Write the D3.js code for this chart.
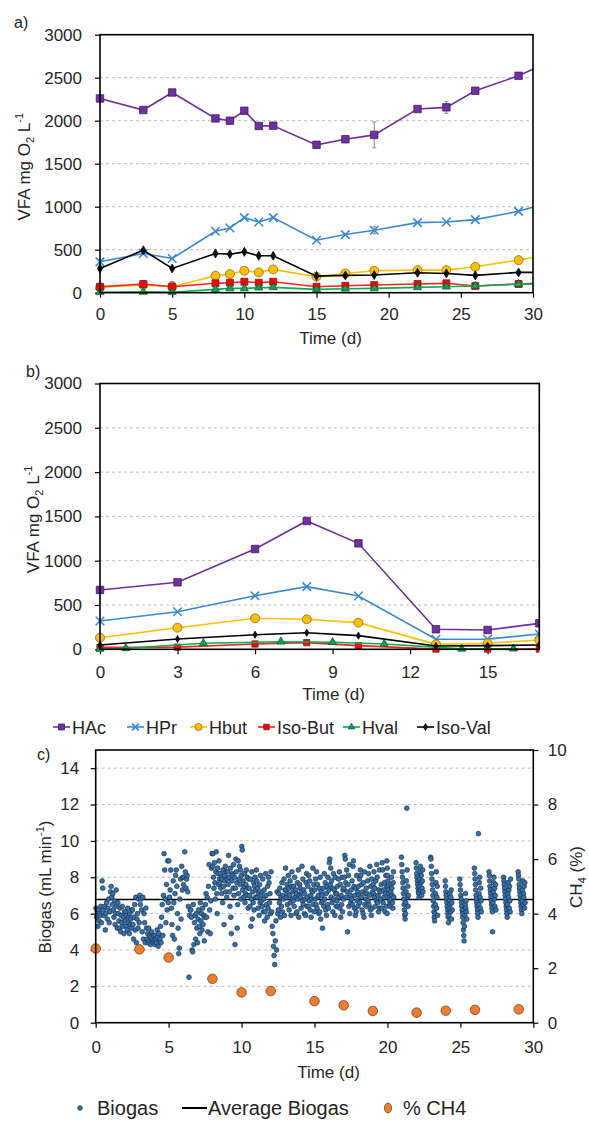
<!DOCTYPE html>
<html>
<head>
<meta charset="utf-8">
<script src="https://cdn.jsdelivr.net/npm/d3@7"></script>
<style>
  body { margin: 0; background: #fff; }
  svg text { font-family: "Liberation Sans", Arial, Helvetica, sans-serif; fill: #262626; }
</style>
</head>
<body>
<svg id="chart" width="589" height="1124"></svg>
<script>
// ---------- Panel a: VFA concentrations, 30-day run ----------
const daysA    = [0, 3, 5, 8, 9, 10, 11, 12, 15, 17, 19, 22, 24, 26, 29, 31];
const hacA     = [2259, 2124, 2328, 2027, 2000, 2116, 1939, 1942, 1719, 1784, 1835, 2136, 2155, 2348, 2522, 2680];
const hprA     = [359, 456, 398, 715, 753, 873, 822, 873, 610, 676, 726, 815, 822, 850, 946, 1046];
const hbutA    = [60, 90, 70, 197, 217, 255, 236, 271, 185, 224, 255, 263, 263, 301, 379, 441];
const isoButA  = [70, 101, 70, 109, 116, 128, 116, 128, 70, 81, 89, 101, 109, 78, 101, 100];
const hvalA    = [5, 10, 5, 39, 50, 50, 58, 62, 39, 46, 50, 62, 70, 78, 100, 116];
const isoValA  = [282, 494, 282, 456, 448, 475, 429, 429, 193, 201, 205, 232, 224, 201, 236, 236];
const hacErrA  = [0, 0, 0, 0, 0, 0, 0, 0, 40, 0, 150, 0, 70, 0, 0, 0];
const hprErrA  = [0, 0, 0, 0, 0, 0, 0, 0, 0, 0, 40, 0, 0, 0, 0, 0];
const hbutErrA = [0, 0, 60, 0, 0, 0, 0, 0, 0, 0, 0, 0, 0, 0, 0, 0];

// ---------- Panel b: VFA concentrations, 17-day run ----------
const daysB    = [0, 3, 6, 8, 10, 13, 15, 17];
const hacB     = [670, 756, 1132, 1448, 1196, 226, 218, 293];
const hprB     = [319, 424, 605, 707, 602, 113, 115, 173];
const hbutB    = [131, 244, 350, 339, 301, 56, 68, 105];
const isoButB  = [22, 25, 60, 75, 41, 2, 2, 2];
const isoValB  = [49, 116, 165, 187, 154, 37, 41, 49];
const hvalDaysB = [0, 1, 4, 7, 9, 11, 14, 16];
const hvalB    = [3, 11, 68, 86, 79, 60, 5, 7];

const vfaTicks = [0, 500, 1000, 1500, 2000, 2500, 3000];
const acidNames = ["HAc", "HPr", "Hbut", "Iso-But", "Hval", "Iso-Val"];

// ---------- Panel c: biogas flow and methane content ----------
// logging windows [start day, end day] and the flow readings (mL/min) taken in each
const biogasWindows = [
  [0, 0.5], [0.5, 1], [1, 1.5], [1.5, 2], [2, 2.5], [2.5, 3], [3, 3.5], [3.5, 4], [4, 4.5], [4.5, 5],
  [5, 5.5], [5.5, 6], [6, 6.5], [6.5, 7], [7, 7.5], [7.5, 8], [8, 8.5], [8.5, 9], [9, 9.5], [9.5, 10],
  [10, 10.5], [10.5, 11], [11, 11.5], [11.5, 12], [12, 12.5], [12.5, 13], [13, 13.5], [13.5, 14], [14, 14.5], [14.5, 15],
  [15, 15.5], [15.5, 16], [16, 16.5], [16.5, 17], [17, 17.5], [17.5, 18], [18, 18.5], [18.5, 19], [19, 19.5], [19.5, 20],
  [19.95, 20.45], [20.95, 21.45], [21.95, 22.45], [22.95, 23.45], [23.95, 24.45],
  [24.95, 25.45], [25.95, 26.45], [26.95, 27.45], [27.95, 28.45], [28.95, 29.45]
];
const biogasReadings = [
  [6.3, 5.8, 6.1, 5.3, 6.2, 5.6, 6.0, 5.9, 6.4, 5.5, 7.8, 7.4],
  [6.2, 5.9, 6.4, 5.1, 6.0, 6.6, 5.7, 6.3, 6.8, 5.5, 6.1],
  [7.2, 7.5, 6.9, 6.5, 7.1, 6.2, 5.8, 6.7, 5.4, 6.0, 7.3, 6.4, 5.2],
  [6.6, 6.0, 5.6, 5.2, 6.3, 5.0, 5.9, 5.5, 6.4, 5.3, 5.8, 4.9, 6.1],
  [5.6, 6.1, 5.3, 5.9, 5.1, 6.3, 5.5, 5.8, 4.9, 6.0, 5.4, 5.7, 5.2, 6.2],
  [6.2, 5.4, 4.6, 5.8, 6.5, 5.1, 6.9, 4.4, 5.7, 6.0, 5.2, 6.8, 5.5],
  [7.0, 6.5, 6.8, 6.2, 5.0, 6.9, 4.6, 6.0, 5.5, 4.4, 6.3, 5.2],
  [4.6, 4.9, 4.4, 5.2, 4.5, 4.8, 4.3, 4.7, 5.0, 4.5, 4.6, 4.4, 4.8],
  [4.5, 4.3, 4.8, 4.6, 4.4, 5.1, 4.7, 4.2, 4.9, 4.5, 4.6, 5.3, 4.4],
  [5.8, 6.5, 4.8, 7.0, 9.3, 8.4, 6.8, 5.5, 7.6, 6.2, 8.9, 6.6],
  [8.9, 6.9, 7.3, 8.4, 6.3, 5.4, 4.8, 7.8, 6.6, 4.6, 7.1, 8.1],
  [8.4, 7.5, 6.0, 5.2, 3.8, 4.1, 6.8, 7.9, 5.7, 8.6, 7.3, 8.0],
  [7.6, 8.0, 9.4, 8.3, 7.4, 7.9, 8.1, 7.2, 6.4, 2.5, 5.9, 6.2],
  [6.2, 5.8, 4.0, 3.9, 6.5, 4.3, 5.5, 5.9, 4.6, 6.0, 5.2, 4.4],
  [5.7, 6.2, 5.3, 4.9, 6.6, 5.6, 6.0, 5.1, 6.3, 5.4, 5.9, 4.5, 5.8],
  [6.5, 7.1, 5.8, 6.9, 5.0, 7.5, 8.7, 6.2, 4.9, 6.7, 8.5, 9.3],
  [8.6, 9.3, 8.0, 7.4, 8.8, 7.7, 6.8, 8.3, 9.4, 7.1, 6.0, 8.5, 8.2, 7.6, 8.9, 7.9],
  [7.7, 8.2, 7.4, 8.0, 7.1, 7.9, 6.6, 8.4, 7.5, 5.4, 8.1, 7.8, 8.6, 7.2, 8.3, 6.9],
  [7.9, 8.3, 7.6, 9.2, 8.0, 7.2, 6.4, 8.5, 5.8, 4.9, 7.8, 8.2, 8.1, 7.4, 8.7, 7.0],
  [8.0, 4.3, 7.4, 9.0, 8.3, 7.7, 5.2, 6.5, 8.9, 7.1, 7.9, 8.6, 7.6, 8.4, 6.8, 8.1],
  [9.7, 9.5, 7.3, 7.8, 6.9, 7.5, 8.2, 6.6, 7.1, 7.6, 8.4, 7.0, 8.0, 7.4, 6.3, 7.9],
  [7.4, 7.0, 6.4, 7.9, 5.3, 6.8, 8.3, 5.7, 7.2, 6.6, 7.7, 6.2, 7.5, 8.0, 6.9, 7.3],
  [8.4, 7.8, 6.9, 7.4, 6.3, 7.1, 5.9, 7.6, 6.6, 8.1, 7.0, 6.7, 7.2, 6.4, 7.9, 6.1],
  [6.8, 7.3, 5.6, 6.1, 8.2, 7.0, 6.5, 5.8, 7.5, 6.3, 8.0, 7.7, 6.6, 7.1, 6.0],
  [8.3, 6.1, 5.3, 4.9, 4.2, 3.7, 3.2, 4.5, 5.6, 4.0, 7.2, 6.0],
  [6.2, 7.1, 6.6, 7.4, 5.8, 6.9, 6.4, 7.7, 6.1, 7.0, 6.8, 7.9, 5.9, 7.3],
  [8.5, 7.3, 6.9, 7.6, 6.5, 7.1, 8.1, 7.4, 6.2, 7.0, 7.8, 6.6, 5.9, 7.5, 8.3, 6.8],
  [7.2, 6.7, 7.5, 6.4, 8.0, 6.9, 7.3, 6.0, 7.1, 6.1, 7.7, 6.8, 8.4, 5.8, 7.0, 7.6],
  [7.4, 6.9, 6.3, 7.2, 8.6, 6.7, 7.9, 6.5, 7.3, 6.0, 7.1, 6.8, 5.9, 7.7, 8.2, 6.4],
  [6.9, 7.5, 6.4, 8.1, 6.7, 7.8, 6.2, 7.0, 5.8, 7.3, 6.8, 7.2, 8.5, 6.5, 7.6, 6.1],
  [7.3, 6.8, 7.9, 6.5, 8.3, 6.3, 7.6, 6.9, 7.0, 6.0, 7.4, 6.1, 8.0, 5.7, 7.2, 6.6],
  [7.0, 5.2, 6.7, 7.4, 6.4, 8.2, 6.8, 7.7, 6.2, 7.1, 5.9, 7.5, 6.5, 8.0, 6.3, 7.3],
  [8.8, 9.0, 7.6, 8.5, 6.9, 7.8, 6.6, 7.4, 6.1, 8.2, 6.8, 7.3, 5.9, 8.0, 7.1, 6.4],
  [7.1, 6.7, 7.5, 6.4, 7.9, 6.9, 8.3, 6.3, 7.6, 5.8, 7.0, 6.5, 8.0, 6.1, 7.3, 6.8],
  [7.4, 8.0, 9.2, 9.0, 7.7, 6.9, 8.4, 7.2, 5.0, 7.6, 8.1, 6.4, 8.7, 6.0, 7.0, 6.6],
  [7.3, 6.8, 7.8, 6.5, 8.6, 8.9, 7.5, 6.3, 7.0, 5.9, 7.4, 6.1, 8.1, 6.7, 7.2, 6.4],
  [7.5, 7.0, 7.9, 6.6, 8.4, 8.1, 6.9, 7.6, 6.2, 7.2, 6.0, 7.7, 5.8, 8.3, 6.5, 7.1],
  [6.8, 7.4, 6.4, 7.1, 7.8, 6.7, 8.2, 6.5, 7.0, 8.6, 6.2, 7.5, 5.9, 7.9, 6.3, 7.2],
  [7.6, 7.1, 8.3, 6.9, 7.4, 6.4, 7.8, 6.7, 8.7, 8.0, 6.6, 7.0, 6.1, 7.3, 8.4, 6.3],
  [7.2, 6.8, 7.6, 6.3, 8.8, 8.4, 6.6, 7.3, 6.9, 7.7, 6.1, 7.1, 8.1, 6.4, 7.5, 6.0],
  [8.9, 8.5, 8.1, 7.8, 7.5, 7.3, 7.1, 6.9, 6.7, 6.5, 6.4, 6.8, 7.2, 7.6, 8.0, 7.4, 7.0, 6.6, 6.3, 7.7, 8.3, 6.9],
  [9.1, 8.7, 8.3, 8.0, 7.7, 7.4, 7.1, 6.8, 6.5, 6.2, 5.9, 5.7, 6.0, 6.6, 7.2, 7.8, 11.8, 8.4, 6.9, 7.5, 6.4, 7.0],
  [8.8, 8.5, 8.2, 8.0, 7.8, 7.6, 7.4, 7.2, 7.1, 6.9, 7.5, 7.9, 8.3, 8.6, 7.3, 7.7, 8.1, 7.0, 7.4, 7.8, 8.4, 7.2],
  [9.1, 9.0, 8.6, 8.2, 7.9, 7.6, 7.3, 7.0, 6.7, 6.4, 6.1, 5.8, 5.6, 6.0, 6.5, 7.1, 7.7, 8.3, 6.3, 6.9, 7.5, 5.9],
  [7.8, 7.5, 7.2, 7.0, 6.8, 6.6, 6.4, 6.2, 6.0, 5.8, 5.5, 5.9, 6.3, 6.7, 7.1, 6.5, 6.1, 6.9, 7.3, 5.7, 6.6, 6.2],
  [7.9, 7.6, 7.3, 7.0, 6.8, 6.6, 6.4, 6.2, 6.0, 5.8, 5.5, 5.1, 4.8, 4.5, 5.3, 5.9, 6.5, 7.1, 6.3, 6.7, 6.1, 5.7],
  [8.5, 8.2, 7.9, 7.6, 7.3, 7.0, 6.8, 6.6, 6.4, 6.2, 6.0, 5.8, 10.4, 6.5, 7.1, 7.7, 8.0, 6.9, 6.3, 7.4, 6.7, 6.1],
  [8.3, 8.1, 7.8, 7.5, 7.3, 7.1, 6.9, 6.7, 6.5, 6.3, 6.1, 5.0, 6.6, 7.2, 7.7, 8.0, 6.8, 7.4, 6.4, 7.0, 7.6, 6.2],
  [8.0, 7.8, 7.6, 7.4, 7.2, 7.0, 6.8, 6.6, 6.4, 6.2, 6.0, 5.8, 6.5, 7.1, 7.7, 6.9, 7.3, 6.3, 7.5, 6.7, 6.1, 7.9],
  [8.3, 8.1, 7.9, 7.6, 7.4, 7.2, 7.0, 6.8, 6.6, 6.4, 6.2, 6.0, 6.7, 7.3, 7.8, 6.5, 7.1, 6.9, 7.5, 6.3, 7.7, 6.6]
];
const avgBiogas = 6.78;
const avgBiogasSpan = [0, 30];
const ch4Days = [0, 3, 5, 8, 10, 12, 15, 17, 19, 22, 24, 26, 29];
const ch4Pct  = [2.72, 2.69, 2.39, 1.61, 1.11, 1.16, 0.79, 0.64, 0.43, 0.37, 0.44, 0.47, 0.49];
const biogasTicks = [0, 2, 4, 6, 8, 10, 12, 14];
const ch4Ticks = [0, 2, 4, 6, 8, 10];

// ---------- drawing ----------
const svg = d3.select("#chart");
const TICK_FS = 17;

const styles = {
  "HAc":     { line: "#7030A0", fill: "#7030A0", stroke: "#3a1a55", shape: "square",   size: 7.5 },
  "HPr":     { line: "#3a89d4", fill: "none",    stroke: "#3a89d4", shape: "cross",    size: 8.5 },
  "Hbut":    { line: "#FFC000", fill: "#FFC000", stroke: "#7a6020", shape: "circle",   size: 9 },
  "Iso-But": { line: "#FF2020", fill: "#FF0000", stroke: "#6a1a1a", shape: "square",   size: 7 },
  "Hval":    { line: "#00B050", fill: "#00A650", stroke: "#1c4a2c", shape: "triangle", size: 8 },
  "Iso-Val": { line: "#000000", fill: "#0b0b22", stroke: "#000000", shape: "diamond",  size: 7.5 }
};

function shapePath(shape, s) {
  switch (shape) {
    case "square":   return d3.symbol(d3.symbolSquare, s * s)();
    case "circle":   return d3.symbol(d3.symbolCircle, Math.PI * s * s / 4)();
    case "triangle": return d3.symbol(d3.symbolTriangle, s * s * 0.45)();
    case "diamond":  return d3.symbol(d3.symbolDiamond, s * s * 0.42)();
    case "cross":    return `M${-s / 2},${-s / 2}L${s / 2},${s / 2}M${-s / 2},${s / 2}L${s / 2},${-s / 2}`;
  }
}

function drawMarker(g, st, x, y, scale) {
  const s = st.size * (scale || 1);
  g.append("path")
    .attr("d", shapePath(st.shape, s))
    .attr("transform", `translate(${x},${y})`)
    .attr("fill", st.fill)
    .attr("stroke", st.stroke)
    .attr("stroke-width", st.shape === "cross" ? 1.6 : 0.7);
}

function styleAxis(g) {
  g.select(".domain").remove();
  g.selectAll(".tick line").attr("stroke", "#000").attr("stroke-width", 1.2);
  g.selectAll(".tick text").attr("font-size", TICK_FS).attr("fill", "#262626")
    .style("font-family", '"Liberation Sans", Arial, sans-serif');
}

function frame(g, L, R, T, B) {
  g.append("rect").attr("x", L).attr("y", T).attr("width", R - L).attr("height", B - T)
    .attr("fill", "none").attr("stroke", "#000").attr("stroke-width", 1.6);
}

function vfaTitle(x, y) {
  const t = svg.append("text").attr("transform", `translate(${x},${y}) rotate(-90)`)
    .attr("text-anchor", "middle").attr("font-size", 17);
  t.append("tspan").text("VFA mg O");
  t.append("tspan").text("2").attr("font-size", 11).attr("dy", 4);
  t.append("tspan").text(" L").attr("dy", -4);
  t.append("tspan").text("-1").attr("font-size", 11).attr("dy", -7);
}

function drawVfaPanel(cfg) {
  const x = d3.scaleLinear().domain([0, cfg.xMax]).range([cfg.L, cfg.R]);
  const y = d3.scaleLinear().domain([0, 3000]).range([cfg.B, cfg.T]);
  const g = svg.append("g");

  g.append("g").selectAll("line")
    .data(vfaTicks.filter(v => v > 0 && v < 3000)).join("line")
    .attr("x1", cfg.L).attr("x2", cfg.R)
    .attr("y1", d => y(d)).attr("y2", d => y(d))
    .attr("stroke", "#bdbdbd").attr("stroke-width", 1).attr("stroke-dasharray", "3,3");

  g.append("g").attr("transform", `translate(0,${cfg.B})`)
    .call(d3.axisBottom(x).tickValues(cfg.xTicks).tickSize(5).tickPadding(cfg.xPad).tickFormat(d3.format("d")))
    .call(styleAxis);
  g.append("g").attr("transform", `translate(${cfg.L},0)`)
    .call(d3.axisLeft(y).tickValues(vfaTicks).tickSize(5).tickPadding(13).tickFormat(d3.format("d")))
    .call(styleAxis);

  const clipId = "clip" + cfg.id;
  g.append("clipPath").attr("id", clipId).append("rect")
    .attr("x", cfg.L - 12).attr("y", cfg.T - 12)
    .attr("width", cfg.R - cfg.L + 12).attr("height", cfg.B - cfg.T + 24);
  const plot = g.append("g").attr("clip-path", `url(#${clipId})`);

  cfg.series.forEach(s => {
    const st = styles[s.name];
    const pts = s.days.map((d, i) => [d, s.values[i], s.err ? s.err[i] : 0]);
    plot.append("path")
      .attr("d", d3.line().x(p => x(p[0])).y(p => y(p[1]))(pts))
      .attr("fill", "none").attr("stroke", st.line).attr("stroke-width", 1.6);
    pts.forEach(p => {
      if (p[2] > 0) {
        const eg = plot.append("g").attr("stroke", "#8a8a8a").attr("stroke-width", 1);
        const cx = x(p[0]), y1 = y(p[1] + p[2]), y2 = y(p[1] - p[2]);
        eg.append("line").attr("x1", cx).attr("x2", cx).attr("y1", y1).attr("y2", y2);
        eg.append("line").attr("x1", cx - 2).attr("x2", cx + 2).attr("y1", y1).attr("y2", y1);
        eg.append("line").attr("x1", cx - 2).attr("x2", cx + 2).attr("y1", y2).attr("y2", y2);
      }
    });
    pts.forEach(p => drawMarker(plot, st, x(p[0]), y(p[1]), s.scale));
  });

  frame(g, cfg.L, cfg.R, cfg.T, cfg.B);

  svg.append("text").attr("x", (cfg.L + cfg.R) / 2 + 14).attr("y", cfg.timeY)
    .attr("text-anchor", "middle").attr("font-size", 17).text("Time (d)");
  svg.append("text").attr("x", cfg.tagX).attr("y", cfg.tagY).attr("font-size", 16).text(cfg.tag);
  vfaTitle(cfg.titleX, (cfg.T + cfg.B) / 2 + 3);
}

drawVfaPanel({
  id: "a", tag: "a)", tagX: 14, tagY: 28,
  L: 100, R: 533, T: 34.7, B: 292.7, xMax: 30, xTicks: [0, 5, 10, 15, 20, 25, 30], xPad: 10,
  timeY: 344, titleX: 30,
  series: [
    { name: "HAc", days: daysA, values: hacA, err: hacErrA },
    { name: "HPr", days: daysA, values: hprA, err: hprErrA },
    { name: "Hbut", days: daysA, values: hbutA, err: hbutErrA },
    { name: "Iso-But", days: daysA, values: isoButA },
    { name: "Hval", days: daysA, values: hvalA },
    { name: "Iso-Val", days: daysA, values: isoValA }
  ]
});

drawVfaPanel({
  id: "b", tag: "b)", tagX: 26, tagY: 377,
  L: 100, R: 539.3, T: 383.5, B: 649.3, xMax: 17, xTicks: [0, 3, 6, 9, 12, 15], xPad: 11.5,
  timeY: 700, titleX: 39,
  series: [
    { name: "HAc", days: daysB, values: hacB },
    { name: "HPr", days: daysB, values: hprB },
    { name: "Hbut", days: daysB, values: hbutB },
    { name: "Iso-But", days: daysB, values: isoButB, scale: 0.9 },
    { name: "Hval", days: hvalDaysB, values: hvalB },
    { name: "Iso-Val", days: daysB, values: isoValB, scale: 0.8 }
  ]
});

// legend for the acid series
const legendX = [53, 127, 190, 258, 343, 417];
const legG = svg.append("g");
acidNames.forEach((name, i) => {
  const st = styles[name];
  const lx = legendX[i], ly = 727;
  legG.append("line").attr("x1", lx).attr("x2", lx + 17).attr("y1", ly).attr("y2", ly)
    .attr("stroke", st.line).attr("stroke-width", 1.6);
  drawMarker(legG, st, lx + 8.5, ly, 0.8);
  legG.append("text").attr("x", lx + 19).attr("y", ly + 6.5).attr("font-size", 18).text(name);
});

// ---------- Panel c ----------
{
  const L = 95.7, R = 533.3, T = 750, B = 1022.7;
  const x = d3.scaleLinear().domain([0, 30]).range([L, R]);
  const yL = d3.scaleLinear().domain([0, 15]).range([B, T]);
  const yR = d3.scaleLinear().domain([0, 10]).range([B, T]);
  const g = svg.append("g");

  g.append("g").selectAll("line")
    .data(biogasTicks.filter(v => v > 0)).join("line")
    .attr("x1", L).attr("x2", R).attr("y1", d => yL(d)).attr("y2", d => yL(d))
    .attr("stroke", "#bdbdbd").attr("stroke-width", 1).attr("stroke-dasharray", "3,3");

  g.append("g").attr("transform", `translate(0,${B})`)
    .call(d3.axisBottom(x).tickValues([0, 5, 10, 15, 20, 25, 30]).tickSize(5).tickPadding(13).tickFormat(d3.format("d")))
    .call(styleAxis);
  g.append("g").attr("transform", `translate(${L},0)`)
    .call(d3.axisLeft(yL).tickValues(biogasTicks).tickSize(5).tickPadding(11.5).tickFormat(d3.format("d")))
    .call(styleAxis);
  g.append("g").attr("transform", `translate(${R},0)`)
    .call(d3.axisRight(yR).tickValues(ch4Ticks).tickSize(5).tickPadding(9.5).tickFormat(d3.format("d")))
    .call(styleAxis);

  // average flow
  g.append("line")
    .attr("x1", x(avgBiogasSpan[0])).attr("x2", x(avgBiogasSpan[1]))
    .attr("y1", yL(avgBiogas)).attr("y2", yL(avgBiogas))
    .attr("stroke", "#000").attr("stroke-width", 1.6);

  // flow readings
  const readings = [];
  biogasWindows.forEach((w, k) => {
    const vals = biogasReadings[k];
    vals.forEach((v, i) => readings.push([w[0] + (i + 0.5) * (w[1] - w[0]) / vals.length, v]));
  });
  g.append("g").selectAll("circle").data(readings).join("circle")
    .attr("cx", d => x(d[0])).attr("cy", d => yL(d[1])).attr("r", 2.4)
    .attr("fill", "#3471ab").attr("stroke", "#17283d").attr("stroke-width", 0.6);

  // methane share
  g.append("g").selectAll("circle").data(ch4Days.map((d, i) => [d, ch4Pct[i]])).join("circle")
    .attr("cx", d => x(d[0])).attr("cy", d => yR(d[1])).attr("r", 4.8)
    .attr("fill", "#ED7D31").attr("stroke", "#6b3510").attr("stroke-width", 0.7);

  frame(g, L, R, T, B);

  svg.append("text").attr("x", 37).attr("y", 760).attr("font-size", 16).text("c)");
  svg.append("text").attr("x", (L + R) / 2 + 14).attr("y", 1078)
    .attr("text-anchor", "middle").attr("font-size", 17).text("Time (d)");

  const tl = svg.append("text").attr("transform", `translate(51,887) rotate(-90)`)
    .attr("text-anchor", "middle").attr("font-size", 17);
  tl.append("tspan").text("Biogas (mL min");
  tl.append("tspan").text("-1").attr("font-size", 11).attr("dy", -7);
  tl.append("tspan").text(")").attr("dy", 7);

  const tr = svg.append("text").attr("transform", `translate(582,877) rotate(-90)`)
    .attr("text-anchor", "middle").attr("font-size", 17);
  tr.append("tspan").text("CH");
  tr.append("tspan").text("4").attr("font-size", 11).attr("dy", 4);
  tr.append("tspan").text(" (%)").attr("dy", -4);

  // legend
  const ly = 1108;
  const lg = svg.append("g");
  lg.append("circle").attr("cx", 80).attr("cy", ly).attr("r", 2.4)
    .attr("fill", "#3471ab").attr("stroke", "#17283d").attr("stroke-width", 0.6);
  lg.append("text").attr("x", 97).attr("y", ly + 7).attr("font-size", 20).text("Biogas");
  lg.append("line").attr("x1", 182).attr("x2", 207).attr("y1", ly).attr("y2", ly)
    .attr("stroke", "#000").attr("stroke-width", 2);
  lg.append("text").attr("x", 208).attr("y", ly + 7).attr("font-size", 20).text("Average Biogas");
  lg.append("ellipse").attr("cx", 388).attr("cy", ly).attr("rx", 3.6).attr("ry", 5)
    .attr("fill", "#ED7D31").attr("stroke", "#6b3510").attr("stroke-width", 0.7);
  lg.append("text").attr("x", 403).attr("y", ly + 7).attr("font-size", 20).text("% CH4");
}
</script>
</body>
</html>
